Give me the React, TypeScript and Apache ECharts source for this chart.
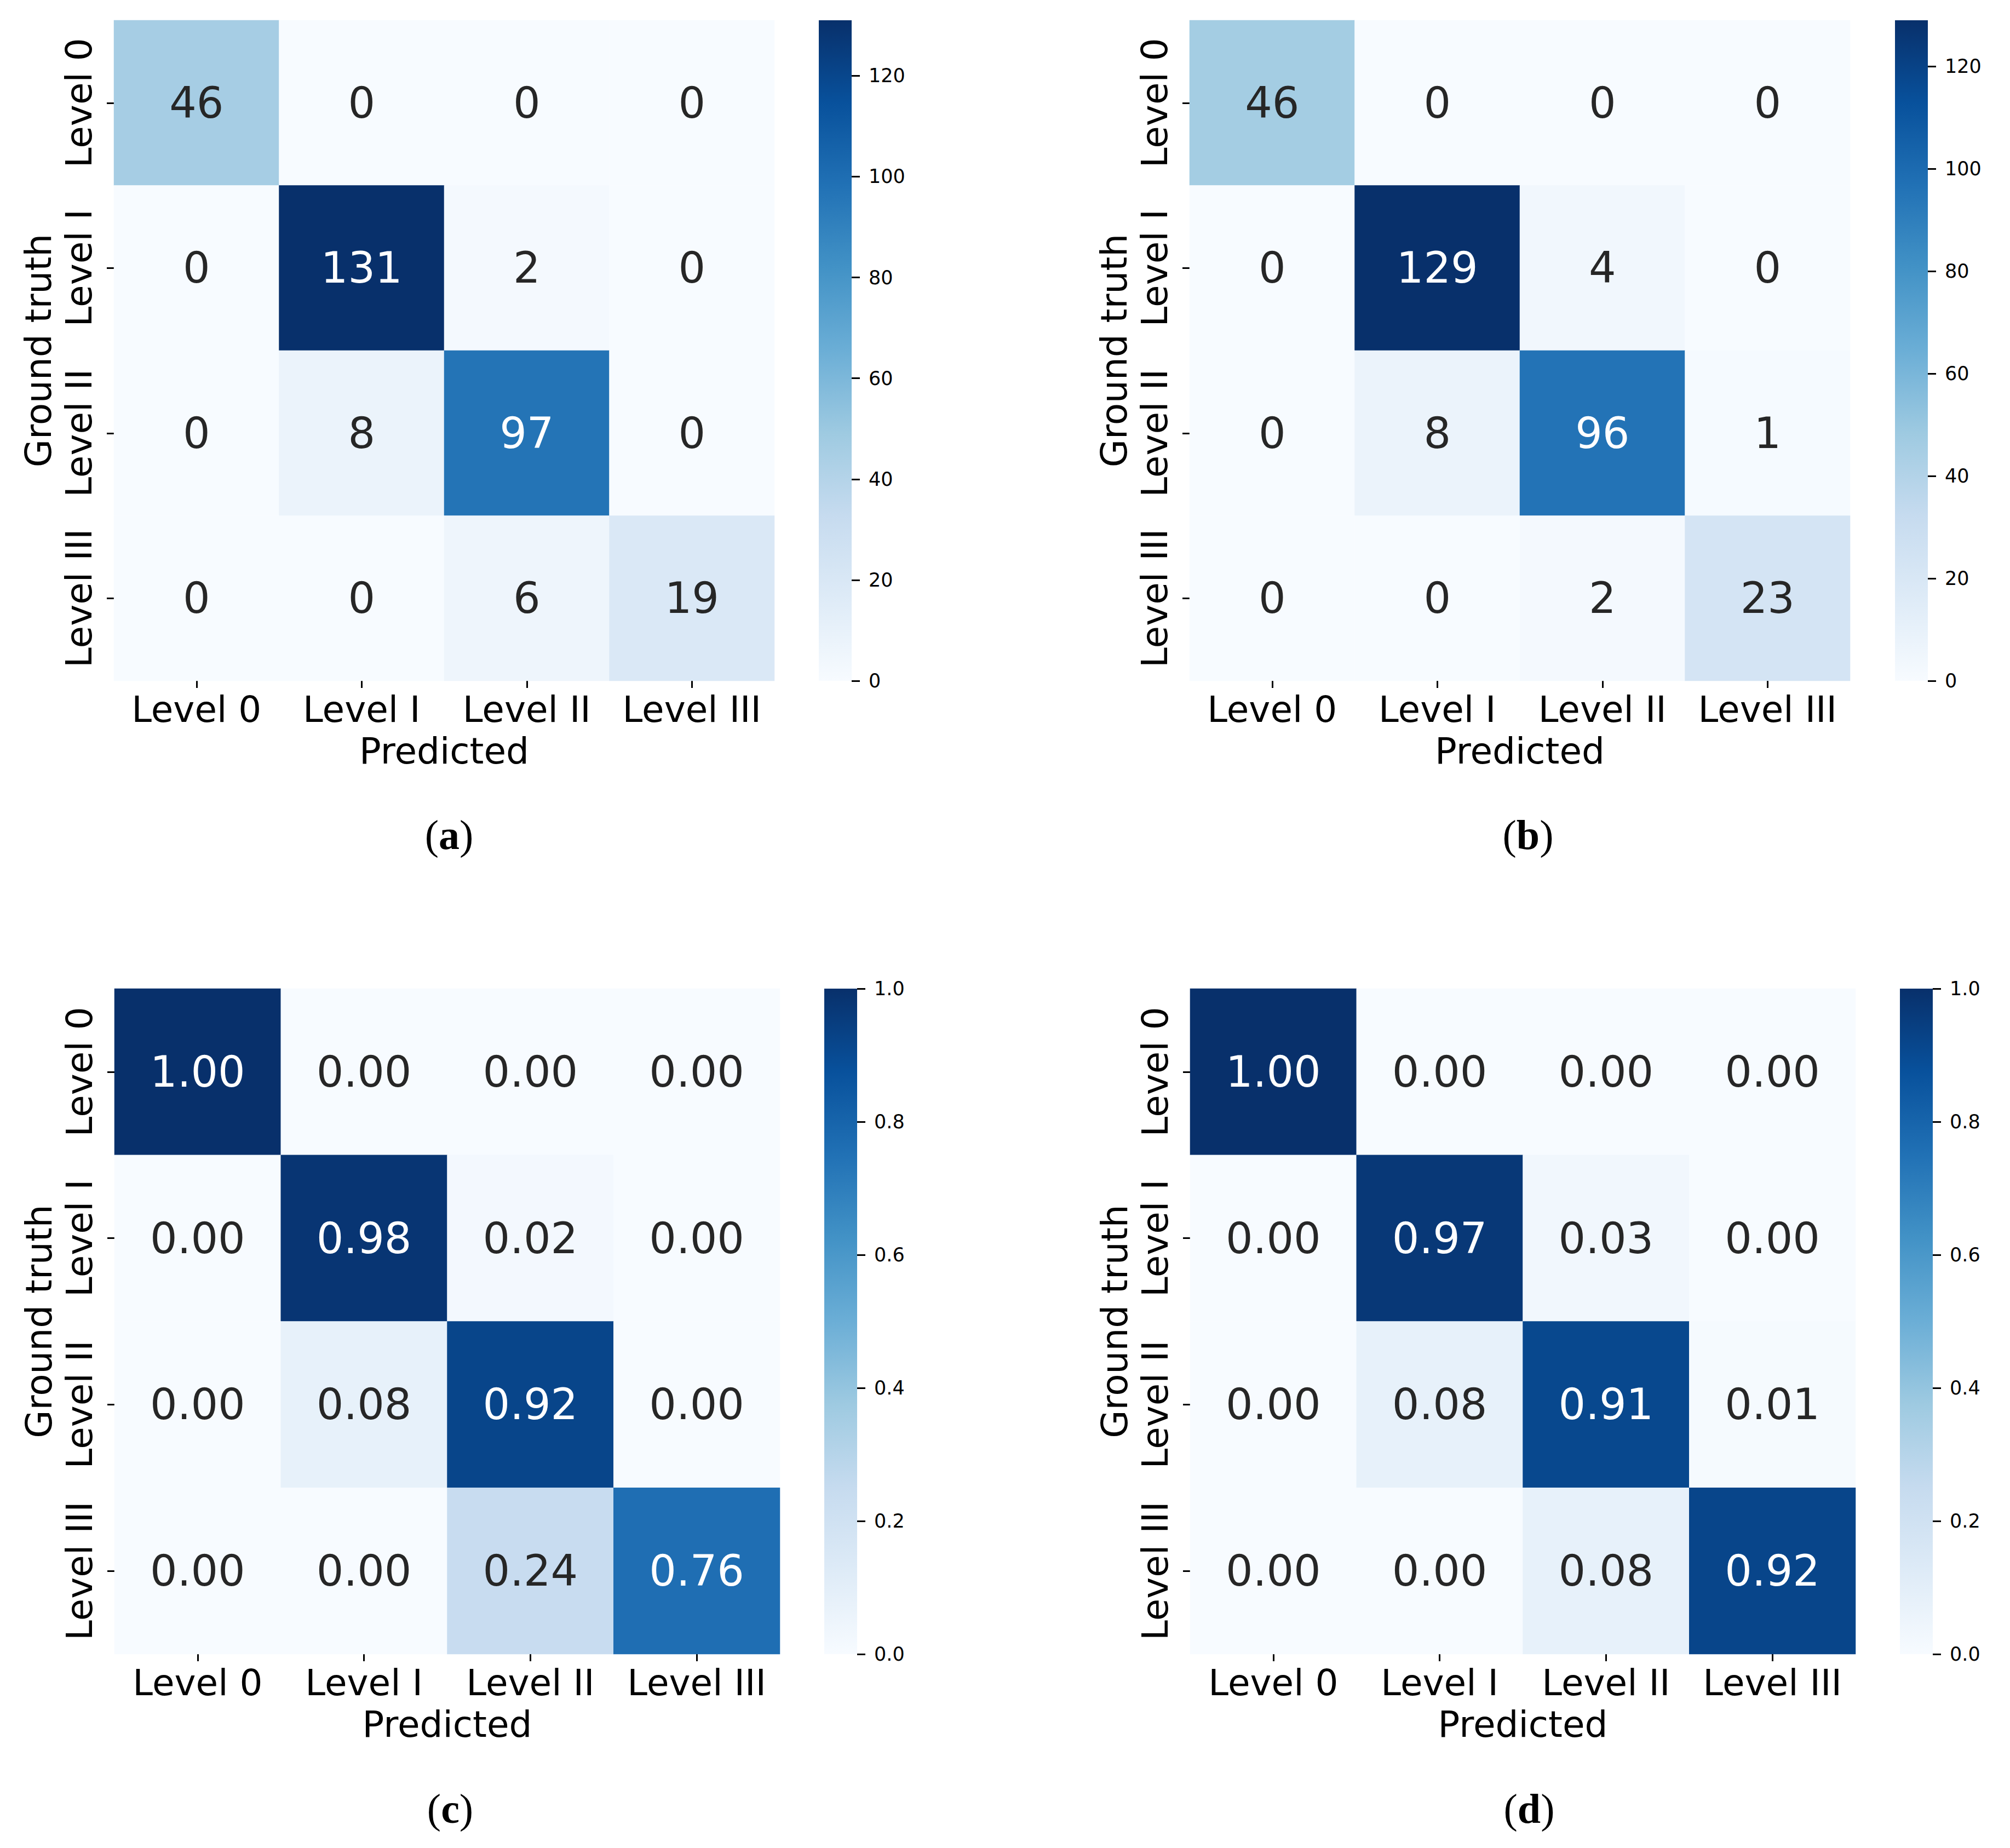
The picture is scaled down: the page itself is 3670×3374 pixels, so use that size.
import React, { useEffect, useRef } from "react";
import * as echarts from "echarts";

// ---------- data ----------
const categories = ["Level 0", "Level I", "Level II", "Level III"];

// rows = ground truth, columns = predicted
const countsA = [
  [46, 0, 0, 0],
  [0, 131, 2, 0],
  [0, 8, 97, 0],
  [0, 0, 6, 19],
];
const countsB = [
  [46, 0, 0, 0],
  [0, 129, 4, 0],
  [0, 8, 96, 1],
  [0, 0, 2, 23],
];
const ratiosC = [
  [1.0, 0.0, 0.0, 0.0],
  [0.0, 0.98, 0.02, 0.0],
  [0.0, 0.08, 0.92, 0.0],
  [0.0, 0.0, 0.24, 0.76],
];
const ratiosD = [
  [1.0, 0.0, 0.0, 0.0],
  [0.0, 0.97, 0.03, 0.0],
  [0.0, 0.08, 0.91, 0.01],
  [0.0, 0.0, 0.08, 0.92],
];

const countTicks = [0, 20, 40, 60, 80, 100, 120];
const ratioTicks = [0, 0.2, 0.4, 0.6, 0.8, 1.0];

const panelLabels = ["a", "b", "c", "d"];

// matplotlib "Blues"
const BLUES = [
  "#f7fbff",
  "#deebf7",
  "#c6dbef",
  "#9ecae1",
  "#6baed6",
  "#4292c6",
  "#2171b5",
  "#08519c",
  "#08306b",
];

// ---------- layout ----------
const FONT = "DejaVu Sans";
const CB_WIDTH = 60;
const panels = [
  { matrix: countsA, max: 131, ticks: countTicks, decimals: 0, left: 208, top: 37, size: 1206, cbLeft: 1495, labelX: 820, labelY: 1524 },
  { matrix: countsB, max: 129, ticks: countTicks, decimals: 0, left: 2172, top: 37, size: 1206, cbLeft: 3460, labelX: 2790, labelY: 1524 },
  { matrix: ratiosC, max: 1, ticks: ratioTicks, decimals: 2, left: 209, top: 1805, size: 1215, cbLeft: 1505, labelX: 822, labelY: 3302 },
  { matrix: ratiosD, max: 1, ticks: ratioTicks, decimals: 2, left: 2173, top: 1805, size: 1215, cbLeft: 3469, labelX: 2792, labelY: 3302 },
];

function buildOption() {
  const grid: any[] = [];
  const xAxis: any[] = [];
  const yAxis: any[] = [];
  const series: any[] = [];
  const visualMap: any[] = [];
  const graphic: any[] = [];

  panels.forEach((p, i) => {
    grid.push({ left: p.left, top: p.top, width: p.size, height: p.size, containLabel: false });
    xAxis.push({
      type: "category",
      gridIndex: i,
      data: categories,
      position: "bottom",
      axisLine: { show: false },
      axisTick: { show: true, alignWithLabel: true, interval: 0, length: 13, lineStyle: { color: "#000", width: 3 } },
      axisLabel: { interval: 0, fontSize: 66, fontFamily: FONT, color: "#000", margin: 52, verticalAlign: "middle" },
      splitLine: { show: false },
      name: "Predicted",
      nameLocation: "middle",
      nameGap: 128,
      nameTextStyle: { fontSize: 66, fontFamily: FONT, color: "#000", verticalAlign: "middle", align: "center" },
    });
    yAxis.push({
      type: "category",
      gridIndex: i,
      data: categories,
      inverse: true,
      position: "left",
      axisLine: { show: false },
      axisTick: { show: true, alignWithLabel: true, interval: 0, length: 13, lineStyle: { color: "#000", width: 3 } },
      axisLabel: { interval: 0, fontSize: 66, fontFamily: FONT, color: "#000", rotate: 90, margin: 64, verticalAlign: "middle", align: "center" },
      splitLine: { show: false },
      name: "Ground truth",
      nameLocation: "middle",
      nameGap: 138,
      nameRotate: 90,
      nameTextStyle: { fontSize: 66, fontFamily: FONT, color: "#000", verticalAlign: "middle", align: "center" },
    });

    const data: any[] = [];
    p.matrix.forEach((row, r) => {
      row.forEach((v, c) => {
        const dark = v / p.max > 0.45;
        data.push({ value: [c, r, v], label: { color: dark ? "#ffffff" : "#262626" } });
      });
    });
    series.push({
      type: "heatmap",
      xAxisIndex: i,
      yAxisIndex: i,
      data,
      itemStyle: { borderWidth: 0 },
      label: {
        show: true,
        fontSize: 78,
        fontFamily: FONT,
        formatter: (prm: any) => Number(prm.value[2]).toFixed(p.decimals),
      },
      emphasis: { disabled: true },
    });

    // colour mapping (hidden; the bar itself is drawn as a gradient rect)
    visualMap.push({
      type: "continuous",
      show: false,
      seriesIndex: i,
      min: 0,
      max: p.max,
      inRange: { color: BLUES },
    });

    // colorbar gradient (bottom = 0, top = max)
    graphic.push({
      type: "rect",
      shape: { x: p.cbLeft, y: p.top, width: CB_WIDTH, height: p.size },
      style: {
        fill: new echarts.graphic.LinearGradient(
          0, 1, 0, 0,
          BLUES.map((c, k) => ({ offset: k / (BLUES.length - 1), color: c }))
        ),
      },
      silent: true,
      z: 0,
    });

    graphic.push({
      type: "text",
      x: p.labelX,
      y: p.labelY,
      style: {
        text: "{p|(}{b|" + panelLabels[i] + "}{p|)}",
        align: "center",
        verticalAlign: "middle",
        rich: {
          p: { fontFamily: "Liberation Serif", fontSize: 76, fill: "#000" },
          b: { fontFamily: "Liberation Serif", fontSize: 76, fontWeight: "bold", fill: "#000" },
        },
      },
    });
  });

  // colorbar axes: a 1px-wide grid hugging the bar's right edge
  panels.forEach((p, i) => {
    const gi = 4 + i;
    grid.push({ left: p.cbLeft + CB_WIDTH, top: p.top, width: 1, height: p.size, containLabel: false });
    xAxis.push({ type: "value", gridIndex: gi, show: false, min: 0, max: 1 });
    yAxis.push({
      type: "value",
      gridIndex: gi,
      position: "right",
      min: 0,
      max: p.max,
      axisLine: { show: false },
      splitLine: { show: false },
      axisTick: { show: true, length: 15, lineStyle: { color: "#000", width: 3 }, customValues: p.ticks },
      axisLabel: {
        show: true,
        fontSize: 35,
        fontFamily: FONT,
        color: "#000",
        margin: 30,
        customValues: p.ticks,
        formatter: (v: number) => (p.decimals === 0 ? String(v) : v.toFixed(1)),
      },
    });
  });

  return {
    animation: false,
    backgroundColor: "#ffffff",
    grid,
    xAxis,
    yAxis,
    visualMap,
    series,
    graphic,
  };
}

export default function App() {
  const ref = useRef<HTMLDivElement>(null);
  useEffect(() => {
    document.body.style.margin = "0";
    if (!ref.current) return;
    const chart = echarts.init(ref.current, null, { renderer: "svg" });
    chart.setOption(buildOption() as any);
    return () => chart.dispose();
  }, []);
  return <div ref={ref} style={{ width: 3670, height: 3374 }} />;
}
